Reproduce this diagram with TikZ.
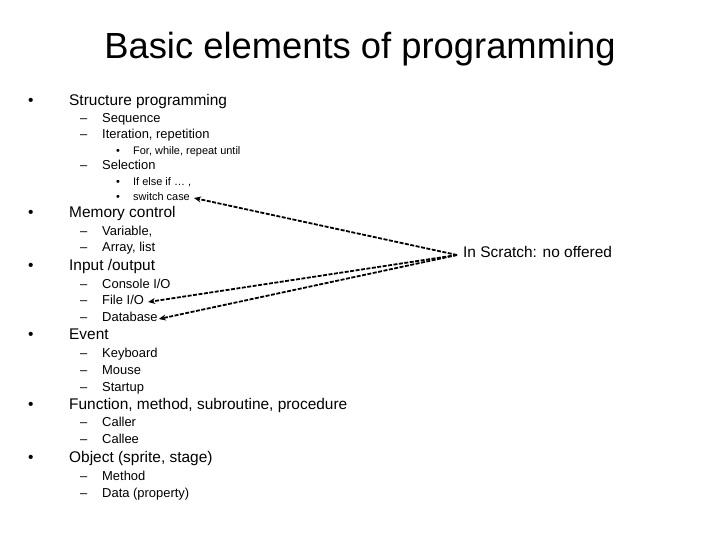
\documentclass[tikz,border=0pt]{standalone}
\usepackage{fontspec}
\setmainfont{Liberation Sans}
\usetikzlibrary{arrows.meta}
\begin{document}
\begin{tikzpicture}[x=1bp,y=-1bp,
  every node/.style={inner sep=0pt,anchor=west,text height=0.72em,text depth=0.2em},
  lone/.style={font=\fontsize{15.5}{18}\selectfont},
  ltwo/.style={font=\fontsize{13}{15}\selectfont},
  lthree/.style={font=\fontsize{11}{12}\selectfont},
  arr/.style={line width=1.8pt,-{Stealth[length=7pt,width=6pt]},dash pattern=on 4pt off 1.5pt}]
\useasboundingbox (0,0) rectangle (720,540);
\node[anchor=center,font=\fontsize{36.5}{40}\selectfont] (title) at (360,56) {Basic elements of programming};
\begin{scope}[shift={(0,3)}]
% level 1
\foreach \y/\t [count=\i] in {100/{Structure programming},212/{Memory control},265/{Input /output},334/{Event},404/{Function, method, subroutine, procedure},457/{Object  (sprite, stage)}}{
  \node[lone] (b\i) at (28,\y) {•};
  \node[lone] (t\i) at (69,\y) {\t};
}
% level 2
\foreach \y/\t [count=\i] in {117/{Sequence},133/{Iteration, repetition},164/{Selection},230/{Variable,},246/{Array, list},283/{Console I/O},352/{Keyboard},369/{Mouse},386/{Startup},421/{Caller},438/{Callee},475/{Method},492/{Data (property)}}{
  \node[ltwo] (d\i) at (80,\y) {–};
  \node[ltwo] (s\i) at (102,\y) {\t};
}
\node[ltwo] (dfile) at (80,299) {–};
\node[ltwo] (sfile) at (102,299) {File I/O};
\node[ltwo] (ddb) at (80,316) {–};
\node[ltwo] (sdb) at (102,316) {Database};
% level 3
\node[lthree] (e1) at (116,149) {•};
\node[lthree] (f1) at (133,149) {For, while, repeat until};
\node[lthree] (e2) at (116,180) {•};
\node[lthree] (f2) at (133,180) {If  else if … ,};
\node[lthree] (e3) at (116,195) {•};
\node[lthree] (f3) at (133,195) {switch case};
% scratch
\node[font=\fontsize{15.5}{18}\selectfont] (scr) at (463,252) {In Scratch: no offered};
\draw[arr] ([xshift=-6pt]scr.west) -- ([xshift=4pt]f3.east);
\draw[arr] ([xshift=-6pt]scr.west) -- ([xshift=4pt]sfile.east);
\draw[arr] ([xshift=-6pt]scr.west) -- ([xshift=1pt]sdb.east);
\end{scope}
\end{tikzpicture}
\end{document}
